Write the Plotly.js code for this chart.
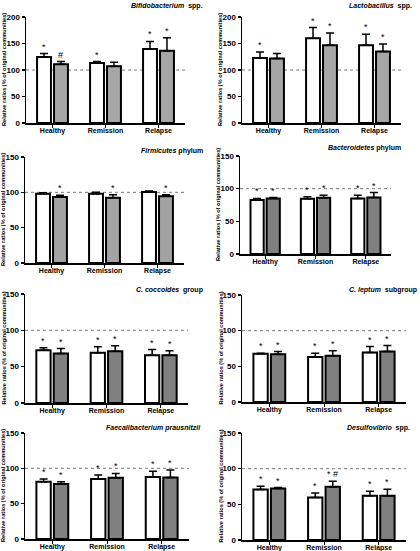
<!DOCTYPE html>
<html>
<head>
<meta charset="utf-8">
<script src="https://cdn.plot.ly/plotly-3.0.1.min.js"></script>
<style>html,body{margin:0;padding:0;background:#fff;}#chart{width:420px;height:551px;}</style>
</head>
<body>
<div id="chart"></div>
<script>
const categories = ['Healthy', 'Remission', 'Relapse'];
const panelTitles = [
  '<i>Bifidobacterium</i>  spp.',
  '<i>Lactobacillus</i>  spp.',
  '<i>Firmicutes</i> phylum',
  '<i>Bacteroidetes</i> phylum',
  '<i>C. coccoides</i>  group',
  '<i>C. leptum</i>  subgroup',
  '<i>Faecalibacterium prausnitzii</i>',
  '<i>Desulfovibrio</i>  spp.'
];
const yMax = [200, 200, 150, 150, 150, 150, 150, 150];
const whiteMeans = [
  [124.5, 113, 139.5],
  [122.5, 160, 146.5],
  [98, 98, 100.5],
  [82.5, 84.5, 85],
  [72.7, 69, 65.8],
  [67.5, 63, 69.4],
  [81, 85, 87.7],
  [70.8, 59.6, 62]
];
const whiteErrs = [
  [6.5, 3, 14.5],
  [11.5, 20, 21],
  [1.5, 2, 1.5],
  [2.5, 3, 5],
  [3.3, 8.3, 7.8],
  [1, 5.5, 8.4],
  [4, 5.6, 8.3],
  [4.7, 6.4, 6.5]
];
const greyMeans = [
  [111, 107, 136.5],
  [121.5, 146.5, 135],
  [93.4, 92.5, 94.3],
  [85, 86, 86.4],
  [68, 71.3, 65.8],
  [67, 64.7, 70.8],
  [77.8, 86.7, 87.2],
  [72.2, 74.5, 62]
];
const greyErrs = [
  [5, 7.5, 24.5],
  [9.5, 23.5, 14],
  [2.4, 4.2, 2.4],
  [1.4, 4, 7.6],
  [7, 7.4, 6],
  [3.8, 7, 8.4],
  [3.2, 6.1, 10.3],
  [1.4, 7.9, 9.3]
];
const whiteMarks = [
  ['*', '*', '*'],
  ['*', '*', '*'],
  ['', '', ''],
  ['*', '*', '*'],
  ['*', '*', '*'],
  ['*', '*', '*'],
  ['*', '*', '*'],
  ['*', '*', '*']
];
const greyMarks = [
  ['#', '', '*'],
  ['', '*', '*'],
  ['*', '*', '*'],
  ['*', '*', '*'],
  ['*', '*', '*'],
  ['*', '*', '*'],
  ['*', '*', '*'],
  ['*', '* #', '*']
];
const greyColors = ['#a6a6a6', '#a6a6a6', '#a3a3a3', '#808080', '#808080', '#808080', '#808080', '#808080'];
const yTitle = 'Relative ratios (% of original communities)';
const referenceLevel = 100;

// panel placement in pixels: [x0, x1, yTop, yBottom], plus title anchor
const W = 420, H = 551;
const boxes = [
  [26, 185, 17, 123],
  [242, 401, 17, 123],
  [25, 184, 157, 263],
  [240, 391, 156, 254],
  [25, 188, 294, 403],
  [242, 406, 295, 402],
  [25, 189, 433, 539],
  [242, 406, 433, 540]
];
const titlePos = [[205, 6], [414, 6], [205, 151], [403, 148], [205, 290], [419, 290], [203, 428], [412, 428]];
const FONT = 'Liberation Sans, Arial, sans-serif';

const traces = [];
const shapes = [];
const annotations = [];
const layout = {
  width: W, height: H,
  margin: {l: 0, r: 0, t: 0, b: 0},
  paper_bgcolor: '#fff', plot_bgcolor: 'rgba(0,0,0,0)',
  showlegend: false,
  barmode: 'group',
  bargap: 0.36,
  bargroupgap: 0.18,
  font: {family: FONT, color: '#000'}
};

for (let p = 0; p < 8; p++) {
  const n = p + 1;
  const xa = 'x' + (n === 1 ? '' : n), ya = 'y' + (n === 1 ? '' : n);
  const [x0, x1, yt, yb] = boxes[p];
  const zeros = categories.map(() => 0);
  traces.push({
    type: 'bar', x: categories, y: whiteMeans[p], xaxis: xa, yaxis: ya,
    marker: {color: '#ffffff', line: {color: '#000', width: 2}},
    error_y: {type: 'data', symmetric: false, array: whiteErrs[p], arrayminus: zeros, color: '#000', thickness: 1.5, width: 4},
    hoverinfo: 'skip'
  });
  traces.push({
    type: 'bar', x: categories, y: greyMeans[p], xaxis: xa, yaxis: ya,
    marker: {color: greyColors[p], line: {color: '#000', width: 2}},
    error_y: {type: 'data', symmetric: false, array: greyErrs[p], arrayminus: zeros, color: '#000', thickness: 1.5, width: 4},
    hoverinfo: 'skip'
  });
  const tv = [];
  for (let v = 0; v <= yMax[p]; v += 50) tv.push(v);
  layout['xaxis' + (n === 1 ? '' : n)] = {
    domain: [x0 / W, x1 / W], anchor: ya, type: 'category',
    range: [-0.5, 2.5], showline: true, linewidth: 1.5, linecolor: '#000',
    ticks: 'outside', ticklen: 3, tickwidth: 1, tickcolor: '#000',
    ticklabelstandoff: -3,
    showgrid: false, zeroline: false, fixedrange: true,
    tickfont: {family: FONT, size: 7, weight: 'bold', color: '#000'}
  };
  layout['yaxis' + (n === 1 ? '' : n)] = {
    domain: [1 - yb / H, 1 - yt / H], anchor: xa,
    range: [0, yMax[p]], tickvals: tv, showline: true, linewidth: 1.5, linecolor: '#000',
    ticks: 'outside', ticklen: 3, tickwidth: 1.2, tickcolor: '#000',
    showgrid: false, zeroline: false, fixedrange: true,
    tickfont: {family: FONT, size: 8, weight: 'bold', color: '#000'}
  };
  shapes.push({
    type: 'line', xref: xa + ' domain', yref: ya, x0: 0, x1: 1, y0: referenceLevel, y1: referenceLevel,
    line: {color: '#7a7a7a', width: 1, dash: 'dot'}, layer: 'below'
  });
  annotations.push({
    xref: 'paper', yref: 'paper', x: titlePos[p][0] / W, y: 1 - titlePos[p][1] / H,
    xanchor: 'right', yanchor: 'middle', showarrow: false, text: '<b>' + panelTitles[p] + '</b>',
    font: {family: FONT, size: 7, color: '#000'}
  });
  annotations.push({
    xref: 'paper', yref: 'paper', x: (x0 - 22) / W, y: 1 - ((yt + yb) / 2) / H,
    xanchor: 'center', yanchor: 'middle', showarrow: false, textangle: -90,
    text: '<b>' + yTitle + '</b>', font: {family: FONT, size: 5.6, color: '#000'}
  });
  for (let i = 0; i < categories.length; i++) {
    if (whiteMarks[p][i]) annotations.push({
      xref: xa, yref: ya, x: i - 0.16, y: whiteMeans[p][i] + whiteErrs[p][i],
      xanchor: 'center', yanchor: 'bottom', yshift: 0, showarrow: false,
      text: whiteMarks[p][i], font: {family: FONT, size: 9, color: '#000'}
    });
    if (greyMarks[p][i]) annotations.push({
      xref: xa, yref: ya, x: i + 0.16, y: greyMeans[p][i] + greyErrs[p][i],
      xanchor: 'center', yanchor: 'bottom', yshift: 0, showarrow: false,
      text: greyMarks[p][i], font: {family: FONT, size: 9, color: '#000'}
    });
  }
}
layout.shapes = shapes;
layout.annotations = annotations;
Plotly.newPlot('chart', traces, layout, {displayModeBar: false, staticPlot: true});
</script>
</body>
</html>
